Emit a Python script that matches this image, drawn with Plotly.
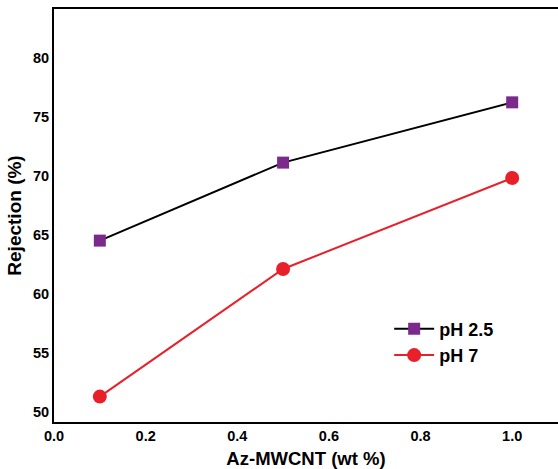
import plotly.graph_objects as go

x_wt = [0.1, 0.5, 1.0]
rej_ph25 = [64.5, 71.1, 76.2]
rej_ph7 = [51.3, 62.1, 69.8]
series_names = ["pH 2.5", "pH 7"]
x_ticks = [0.0, 0.2, 0.4, 0.6, 0.8, 1.0]
y_ticks = [50, 55, 60, 65, 70, 75, 80]

fig = go.Figure()
fig.add_trace(go.Scatter(
    x=x_wt, y=rej_ph25, name=series_names[0], mode="lines+markers",
    line=dict(color="black", width=2),
    marker=dict(symbol="square", size=12, color="#7B2A8B"),
))
fig.add_trace(go.Scatter(
    x=x_wt, y=rej_ph7, name=series_names[1], mode="lines+markers",
    line=dict(color="#E8202A", width=2),
    marker=dict(symbol="circle", size=14, color="#E8202A"),
))

font_family = "Liberation Sans, Arial, sans-serif"
fig.update_layout(
    width=558, height=469,
    margin=dict(l=54, r=0, t=9, b=47),
    paper_bgcolor="white", plot_bgcolor="white",
    font=dict(family=font_family, color="black"),
    showlegend=True,
    legend=dict(x=0.665, y=0.27, xanchor="left", yanchor="top",
                font=dict(size=18, family=font_family, color="black", weight="bold"),
                bgcolor="rgba(0,0,0,0)", itemwidth=40, tracegroupgap=0),
    xaxis=dict(range=[0, 1.1], tickvals=x_ticks, ticktext=[f"{v:.1f}" for v in x_ticks],
               showgrid=False, zeroline=False, showline=True, linecolor="black", linewidth=2,
               mirror=True, ticks="",
               tickfont=dict(size=14.5, weight="bold"),
               title=dict(text="<b>Az-MWCNT (wt %)</b>", font=dict(size=18.5), standoff=9)),
    yaxis=dict(range=[49.15, 84.1], tickvals=y_ticks,
               showgrid=False, zeroline=False, showline=True, linecolor="black", linewidth=2,
               mirror=False, ticks="",
               tickfont=dict(size=14.5, weight="bold"),
               title=dict(text="<b>Rejection (%)</b>", font=dict(size=19), standoff=6)),
)

fig.write_html("out.html")
